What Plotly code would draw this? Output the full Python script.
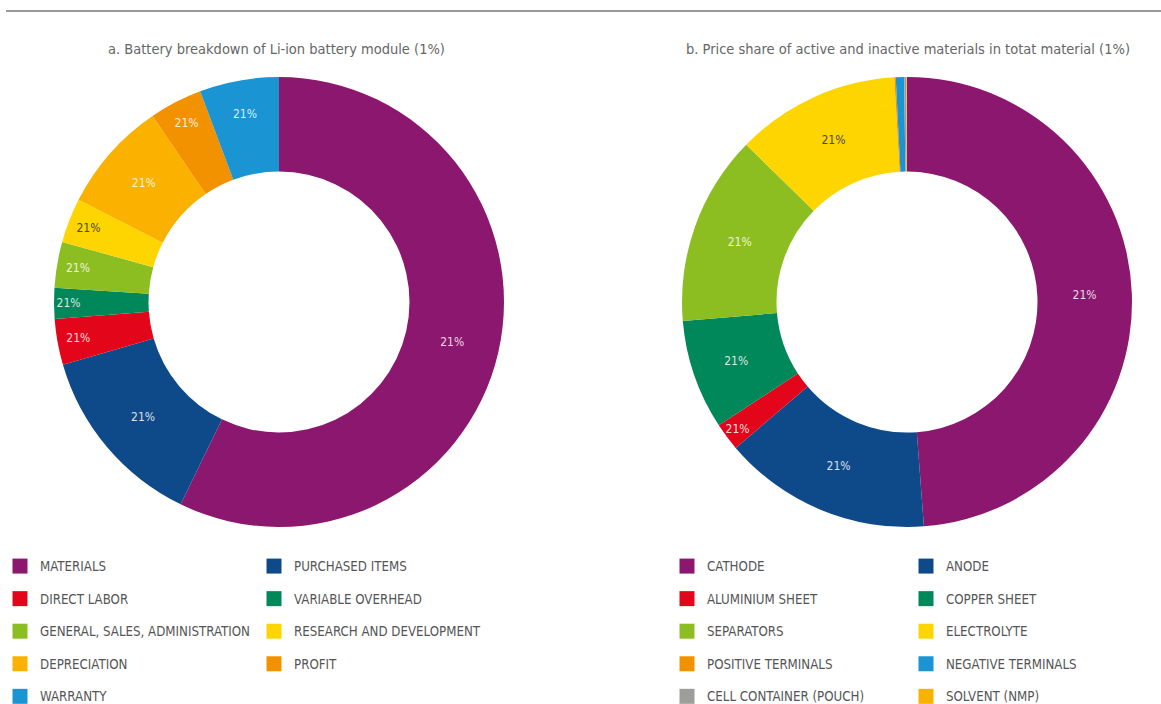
import plotly.graph_objects as go

# ---- data ----
labels_a = ["MATERIALS", "PURCHASED ITEMS", "DIRECT LABOR", "VARIABLE OVERHEAD",
            "GENERAL, SALES, ADMINISTRATION", "RESEARCH AND DEVELOPMENT",
            "DEPRECIATION", "PROFIT", "WARRANTY"]
values_a = [57.2, 13.3, 3.3, 2.2, 3.3, 3.2, 8.0, 3.8, 5.7]
text_a = ["21%", "21%", "21%", "21%", "21%", "21%", "21%", "21%", "21%"]
colors_a = ["#8B176F", "#0E4A8A", "#E3061A", "#00875A", "#8CBE22",
            "#FFD500", "#FBB100", "#F39200", "#1A94D2"]

labels_b = ["CATHODE", "ANODE", "ALUMINIUM SHEET", "COPPER SHEET", "SEPARATORS",
            "ELECTROLYTE", "POSITIVE TERMINALS", "NEGATIVE TERMINALS",
            "CELL CONTAINER (POUCH)", "SOLVENT (NMP)"]
values_b = [48.9, 15.0, 2.0, 7.9, 13.7, 11.8, 0.1, 0.6, 0.15, 0.05]
text_b = ["21%", "21%", "21%", "21%", "21%", "21%", "", "", "", ""]
colors_b = ["#8B176F", "#0E4A8A", "#E3061A", "#00875A", "#8CBE22",
            "#FFD500", "#F39200", "#1A94D2", "#9D9D9C", "#FBB100"]

title_a = "a. Battery breakdown of Li-ion battery module (1%)"
title_b = "b. Price share of active and inactive materials in totat material (1%)"

# ---- layout helpers ----
W, H = 1161, 704
FONT = "DejaVu Sans Condensed, Liberation Sans Narrow, sans-serif"


def px_x(v):
    return v / W


def px_y(v):
    return 1 - v / H


def txt_colors(cols):
    return ["#4a4a4a" if c == "#FFD500" else "rgba(255,255,255,0.85)" for c in cols]


R = 225
cy = 302

fig = go.Figure()
fig.add_trace(go.Pie(
    labels=labels_a, values=values_a, text=text_a,
    textinfo="text", textposition="inside", insidetextorientation="horizontal",
    marker=dict(colors=colors_a, line=dict(width=0)),
    textfont=dict(color=txt_colors(colors_a), size=12, family=FONT),
    hole=0.58, sort=False, direction="clockwise", rotation=0,
    domain=dict(x=[px_x(279 - R), px_x(279 + R)], y=[px_y(cy + R), px_y(cy - R)]),
    showlegend=False, hoverinfo="label+percent",
))
fig.add_trace(go.Pie(
    labels=labels_b, values=values_b, text=text_b,
    textinfo="text", textposition="inside", insidetextorientation="horizontal",
    marker=dict(colors=colors_b, line=dict(width=0)),
    textfont=dict(color=txt_colors(colors_b), size=12, family=FONT),
    hole=0.58, sort=False, direction="clockwise", rotation=0,
    domain=dict(x=[px_x(907 - R), px_x(907 + R)], y=[px_y(cy + R), px_y(cy - R)]),
    showlegend=False, hoverinfo="label+percent",
))

# legend keys (two columns per chart, filled row-wise like the reference)
def add_keys(labels, colors, leg_left, leg_right):
    for i, (lab, col) in enumerate(zip(labels, colors)):
        fig.add_trace(go.Scatter(
            x=[None], y=[None], mode="markers", name=lab,
            marker=dict(symbol="square", size=15, color=col),
            legend=leg_left if i % 2 == 0 else leg_right,
            legendgroup=lab, showlegend=True, hoverinfo="skip",
        ))


add_keys(labels_a, colors_a, "legend", "legend2")
add_keys(labels_b, colors_b, "legend3", "legend4")

leg_common = dict(orientation="v", xanchor="left", yanchor="top",
                  font=dict(size=13.2, color="#555555", family=FONT),
                  bgcolor="rgba(0,0,0,0)", traceorder="grouped",
                  tracegroupgap=12.4, itemclick=False, itemdoubleclick=False)

LEG_TOP = 551
fig.update_layout(
    width=W, height=H,
    margin=dict(l=0, r=0, t=0, b=0, autoexpand=False),
    paper_bgcolor="white", plot_bgcolor="white",
    xaxis=dict(visible=False), yaxis=dict(visible=False),
    uniformtext=dict(minsize=12, mode="show"),
    legend=dict(x=px_x(0), y=px_y(LEG_TOP), **leg_common),
    legend2=dict(x=px_x(254), y=px_y(LEG_TOP), **leg_common),
    legend3=dict(x=px_x(667), y=px_y(LEG_TOP), **leg_common),
    legend4=dict(x=px_x(906), y=px_y(LEG_TOP), **leg_common),
    annotations=[
        dict(text=title_a, x=px_x(276), y=px_y(49), xref="paper", yref="paper",
             xanchor="center", yanchor="middle", showarrow=False,
             font=dict(size=14.5, color="#666666", family=FONT)),
        dict(text=title_b, x=px_x(908), y=px_y(49), xref="paper", yref="paper",
             xanchor="center", yanchor="middle", showarrow=False,
             font=dict(size=14.5, color="#666666", family=FONT)),
    ],
    shapes=[dict(type="line", xref="paper", yref="paper",
                 x0=px_x(6), x1=1, y0=px_y(11), y1=px_y(11),
                 line=dict(color="#999999", width=2))],
)

fig.write_html("out.html")
